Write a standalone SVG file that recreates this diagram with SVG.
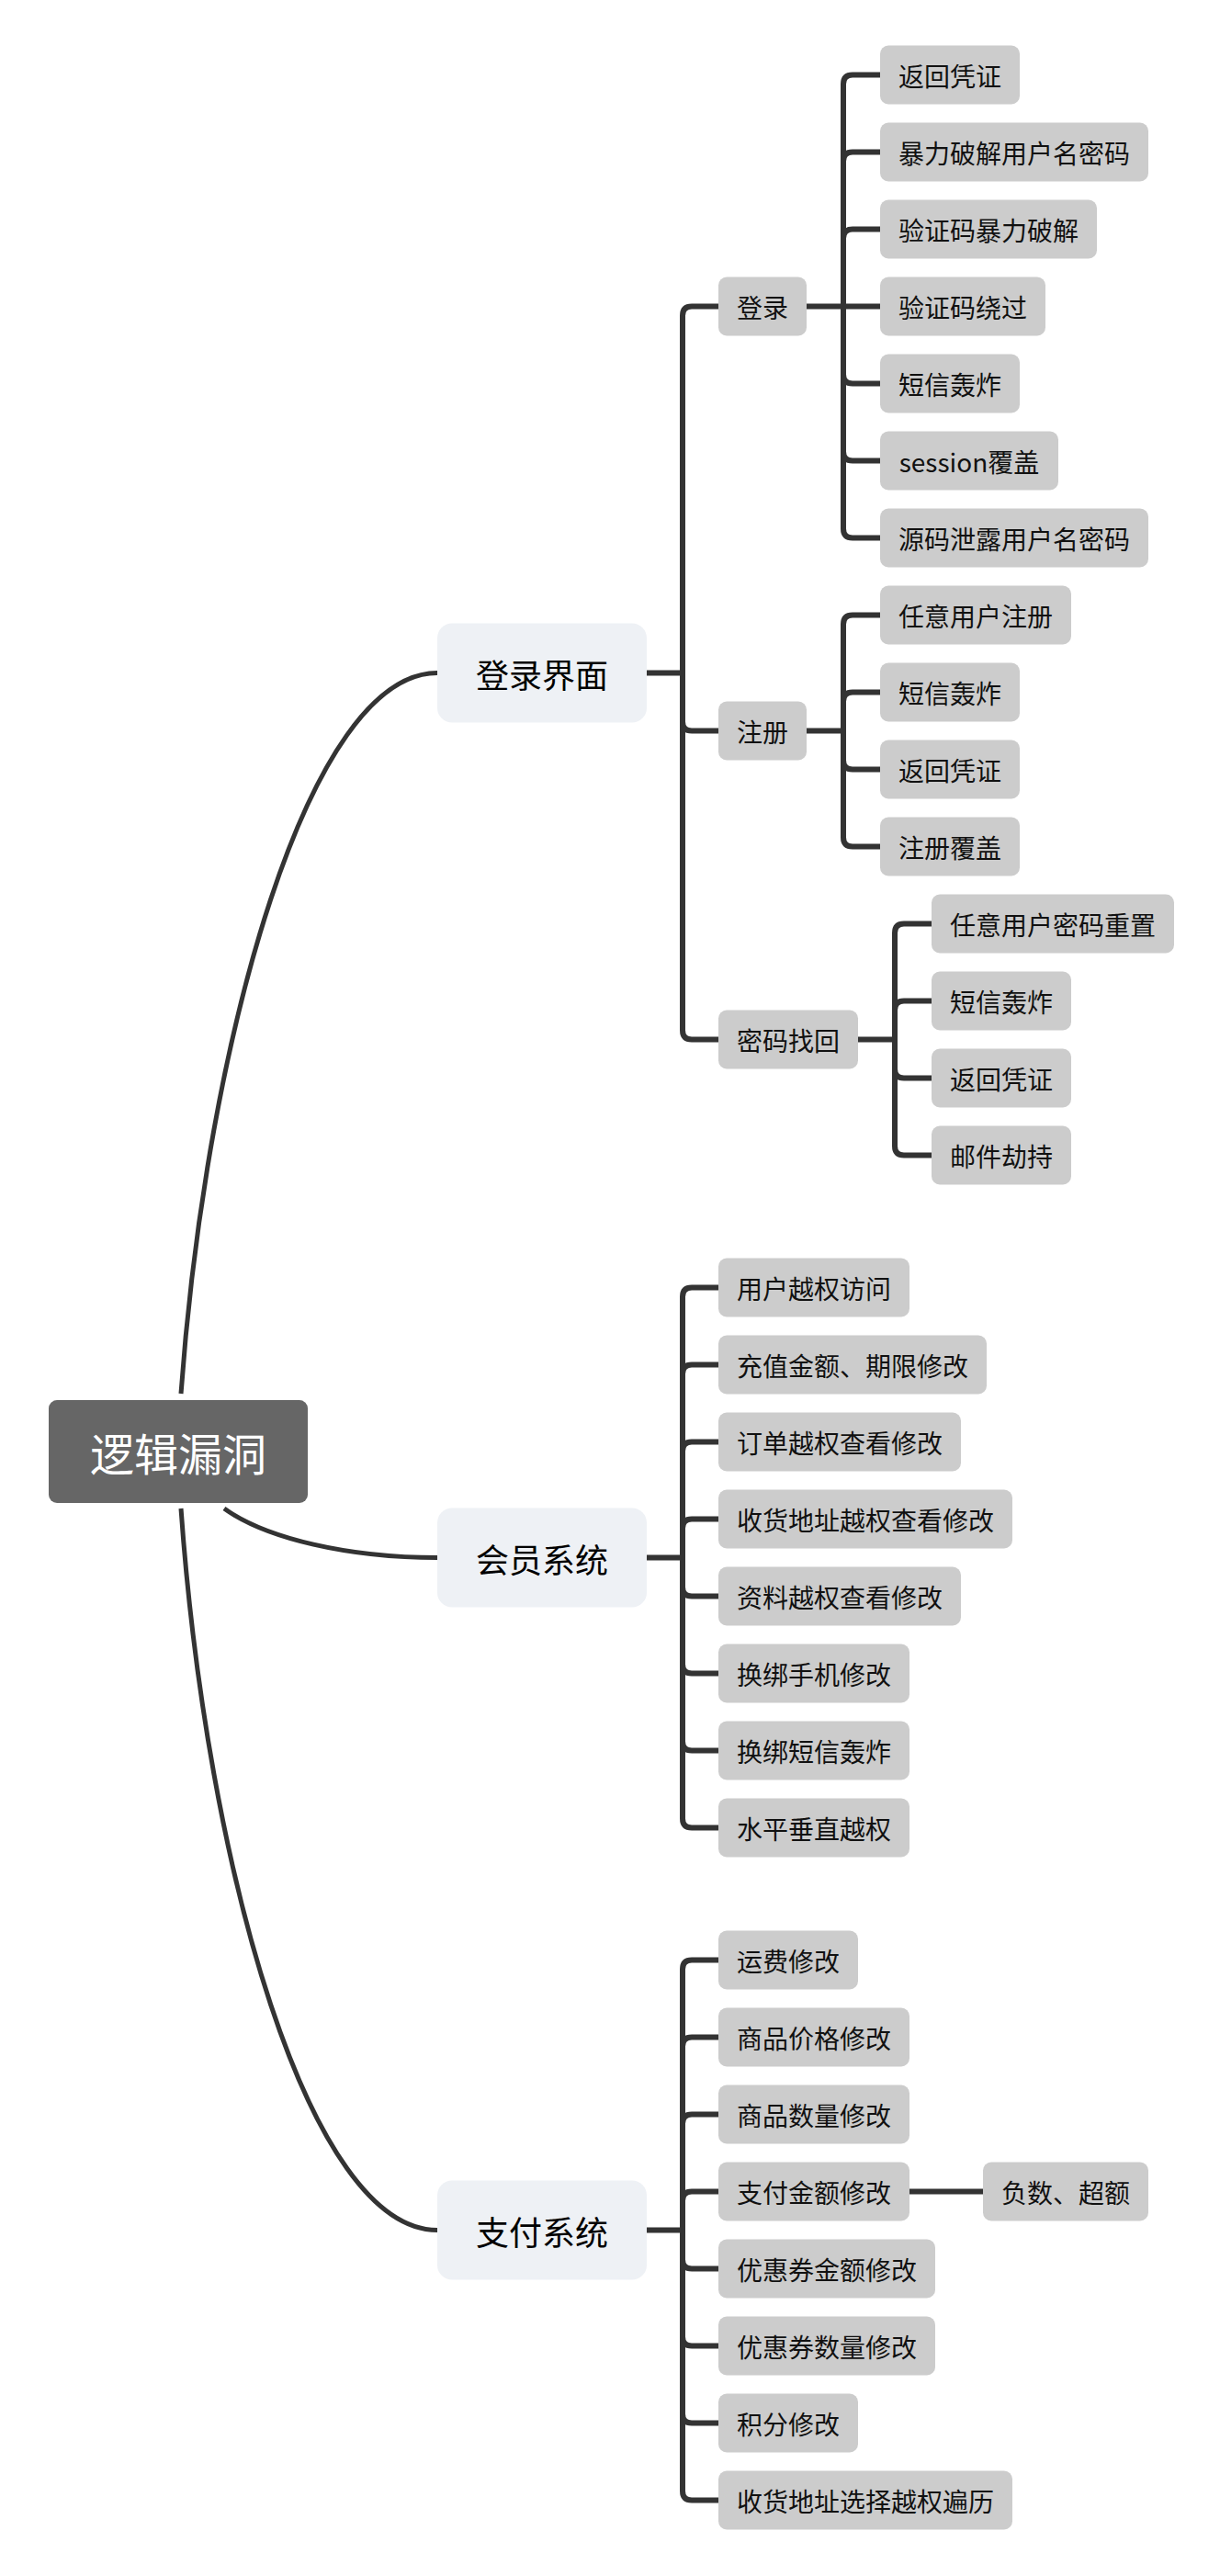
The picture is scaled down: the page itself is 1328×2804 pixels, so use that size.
<svg xmlns="http://www.w3.org/2000/svg" width="1328" height="2804" viewBox="0 0 1328 2804">
<style>
.ln{fill:none;stroke:#333333;stroke-width:5}
.br{fill:none;stroke:#333333;stroke-width:6}
.root rect{fill:#666666}
.root text{fill:#ffffff;font-size:48px}
.main rect{fill:#EEF1F5}
.main text{fill:#000000;font-size:36px}
.leaf rect{fill:#CCCCCC}
.leaf text{fill:#111111;font-size:28px}
text{font-family:"Noto Sans CJK SC","Noto Sans",sans-serif;text-anchor:middle;dominant-baseline:central}
</style>
<rect width="1328" height="2804" fill="#ffffff"/>
<g id="connectors">
<path class="ln" d="M197 1517 C225 1128 336.5 732.5 476 732.5"/>
<path class="ln" d="M244 1642 C290 1675 380 1695.5 476 1695.5"/>
<path class="ln" d="M197 1642 C225 2035 336.5 2427.5 476 2427.5"/>
<path class="br" d="M704 732.5 H743 M743 732.5 V343.5 Q743 333.5 753 333.5 H782 M743 732.5 V785.5 Q743 795.5 753 795.5 H782 M743 732.5 V1121.5 Q743 1131.5 753 1131.5 H782"/>
<path class="br" d="M878 333.5 H958 M918 333.5 V91.5 Q918 81.5 928 81.5 H958 M918 333.5 V175.5 Q918 165.5 928 165.5 H958 M918 333.5 V259.5 Q918 249.5 928 249.5 H958 M918 333.5 V407.5 Q918 417.5 928 417.5 H958 M918 333.5 V491.5 Q918 501.5 928 501.5 H958 M918 333.5 V575.5 Q918 585.5 928 585.5 H958"/>
<path class="br" d="M878 795.5 H918 M918 795.5 V679.5 Q918 669.5 928 669.5 H958 M918 795.5 V763.5 Q918 753.5 928 753.5 H958 M918 795.5 V827.5 Q918 837.5 928 837.5 H958 M918 795.5 V911.5 Q918 921.5 928 921.5 H958"/>
<path class="br" d="M934 1131.5 H974 M974 1131.5 V1015.5 Q974 1005.5 984 1005.5 H1014 M974 1131.5 V1099.5 Q974 1089.5 984 1089.5 H1014 M974 1131.5 V1163.5 Q974 1173.5 984 1173.5 H1014 M974 1131.5 V1247.5 Q974 1257.5 984 1257.5 H1014"/>
<path class="br" d="M704 1695.5 H743 M743 1695.5 V1411.5 Q743 1401.5 753 1401.5 H782 M743 1695.5 V1495.5 Q743 1485.5 753 1485.5 H782 M743 1695.5 V1579.5 Q743 1569.5 753 1569.5 H782 M743 1695.5 V1663.5 Q743 1653.5 753 1653.5 H782 M743 1695.5 V1727.5 Q743 1737.5 753 1737.5 H782 M743 1695.5 V1811.5 Q743 1821.5 753 1821.5 H782 M743 1695.5 V1895.5 Q743 1905.5 753 1905.5 H782 M743 1695.5 V1979.5 Q743 1989.5 753 1989.5 H782"/>
<path class="br" d="M704 2427.5 H743 M743 2427.5 V2143.5 Q743 2133.5 753 2133.5 H782 M743 2427.5 V2227.5 Q743 2217.5 753 2217.5 H782 M743 2427.5 V2311.5 Q743 2301.5 753 2301.5 H782 M743 2427.5 V2395.5 Q743 2385.5 753 2385.5 H782 M743 2427.5 V2459.5 Q743 2469.5 753 2469.5 H782 M743 2427.5 V2543.5 Q743 2553.5 753 2553.5 H782 M743 2427.5 V2627.5 Q743 2637.5 753 2637.5 H782 M743 2427.5 V2711.5 Q743 2721.5 753 2721.5 H782"/>
<path class="br" d="M990 2385.5 H1070"/>
</g>
<g id="root" class="root"><rect x="53" y="1524" width="282" height="112" rx="9"/><text x="194" y="1580">逻辑漏洞</text></g>
<g id="n-login-ui" class="main"><rect x="476" y="678.5" width="228" height="108" rx="16"/><text x="590" y="732.5">登录界面</text></g>
<g id="n-member" class="main"><rect x="476" y="1641.5" width="228" height="108" rx="16"/><text x="590" y="1695.5">会员系统</text></g>
<g id="n-pay" class="main"><rect x="476" y="2373.5" width="228" height="108" rx="16"/><text x="590" y="2427.5">支付系统</text></g>
<g id="n-login" class="leaf"><rect x="782" y="301.5" width="96" height="64" rx="9"/><text x="830" y="333.5">登录</text></g>
<g id="n-register" class="leaf"><rect x="782" y="763.5" width="96" height="64" rx="9"/><text x="830" y="795.5">注册</text></g>
<g id="n-recover" class="leaf"><rect x="782" y="1099.5" width="152" height="64" rx="9"/><text x="858" y="1131.5">密码找回</text></g>
<g id="l1" class="leaf"><rect x="958" y="49.5" width="152" height="64" rx="9"/><text x="1034" y="81.5">返回凭证</text></g>
<g id="l2" class="leaf"><rect x="958" y="133.5" width="292" height="64" rx="9"/><text x="1104" y="165.5">暴力破解用户名密码</text></g>
<g id="l3" class="leaf"><rect x="958" y="217.5" width="236" height="64" rx="9"/><text x="1076" y="249.5">验证码暴力破解</text></g>
<g id="l4" class="leaf"><rect x="958" y="301.5" width="180" height="64" rx="9"/><text x="1048" y="333.5">验证码绕过</text></g>
<g id="l5" class="leaf"><rect x="958" y="385.5" width="152" height="64" rx="9"/><text x="1034" y="417.5">短信轰炸</text></g>
<g id="l6" class="leaf"><rect x="958" y="469.5" width="194" height="64" rx="9"/><text x="1055" y="501.5">session覆盖</text></g>
<g id="l7" class="leaf"><rect x="958" y="553.5" width="292" height="64" rx="9"/><text x="1104" y="585.5">源码泄露用户名密码</text></g>
<g id="r1" class="leaf"><rect x="958" y="637.5" width="208" height="64" rx="9"/><text x="1062" y="669.5">任意用户注册</text></g>
<g id="r2" class="leaf"><rect x="958" y="721.5" width="152" height="64" rx="9"/><text x="1034" y="753.5">短信轰炸</text></g>
<g id="r3" class="leaf"><rect x="958" y="805.5" width="152" height="64" rx="9"/><text x="1034" y="837.5">返回凭证</text></g>
<g id="r4" class="leaf"><rect x="958" y="889.5" width="152" height="64" rx="9"/><text x="1034" y="921.5">注册覆盖</text></g>
<g id="p1" class="leaf"><rect x="1014" y="973.5" width="264" height="64" rx="9"/><text x="1146" y="1005.5">任意用户密码重置</text></g>
<g id="p2" class="leaf"><rect x="1014" y="1057.5" width="152" height="64" rx="9"/><text x="1090" y="1089.5">短信轰炸</text></g>
<g id="p3" class="leaf"><rect x="1014" y="1141.5" width="152" height="64" rx="9"/><text x="1090" y="1173.5">返回凭证</text></g>
<g id="p4" class="leaf"><rect x="1014" y="1225.5" width="152" height="64" rx="9"/><text x="1090" y="1257.5">邮件劫持</text></g>
<g id="m1" class="leaf"><rect x="782" y="1369.5" width="208" height="64" rx="9"/><text x="886" y="1401.5">用户越权访问</text></g>
<g id="m2" class="leaf"><rect x="782" y="1453.5" width="292" height="64" rx="9"/><text x="928" y="1485.5">充值金额、期限修改</text></g>
<g id="m3" class="leaf"><rect x="782" y="1537.5" width="264" height="64" rx="9"/><text x="914" y="1569.5">订单越权查看修改</text></g>
<g id="m4" class="leaf"><rect x="782" y="1621.5" width="320" height="64" rx="9"/><text x="942" y="1653.5">收货地址越权查看修改</text></g>
<g id="m5" class="leaf"><rect x="782" y="1705.5" width="264" height="64" rx="9"/><text x="914" y="1737.5">资料越权查看修改</text></g>
<g id="m6" class="leaf"><rect x="782" y="1789.5" width="208" height="64" rx="9"/><text x="886" y="1821.5">换绑手机修改</text></g>
<g id="m7" class="leaf"><rect x="782" y="1873.5" width="208" height="64" rx="9"/><text x="886" y="1905.5">换绑短信轰炸</text></g>
<g id="m8" class="leaf"><rect x="782" y="1957.5" width="208" height="64" rx="9"/><text x="886" y="1989.5">水平垂直越权</text></g>
<g id="z1" class="leaf"><rect x="782" y="2101.5" width="152" height="64" rx="9"/><text x="858" y="2133.5">运费修改</text></g>
<g id="z2" class="leaf"><rect x="782" y="2185.5" width="208" height="64" rx="9"/><text x="886" y="2217.5">商品价格修改</text></g>
<g id="z3" class="leaf"><rect x="782" y="2269.5" width="208" height="64" rx="9"/><text x="886" y="2301.5">商品数量修改</text></g>
<g id="z4" class="leaf"><rect x="782" y="2353.5" width="208" height="64" rx="9"/><text x="886" y="2385.5">支付金额修改</text></g>
<g id="z4a" class="leaf"><rect x="1070" y="2353.5" width="180" height="64" rx="9"/><text x="1160" y="2385.5">负数、超额</text></g>
<g id="z5" class="leaf"><rect x="782" y="2437.5" width="236" height="64" rx="9"/><text x="900" y="2469.5">优惠券金额修改</text></g>
<g id="z6" class="leaf"><rect x="782" y="2521.5" width="236" height="64" rx="9"/><text x="900" y="2553.5">优惠券数量修改</text></g>
<g id="z7" class="leaf"><rect x="782" y="2605.5" width="152" height="64" rx="9"/><text x="858" y="2637.5">积分修改</text></g>
<g id="z8" class="leaf"><rect x="782" y="2689.5" width="320" height="64" rx="9"/><text x="942" y="2721.5">收货地址选择越权遍历</text></g>
</svg>
